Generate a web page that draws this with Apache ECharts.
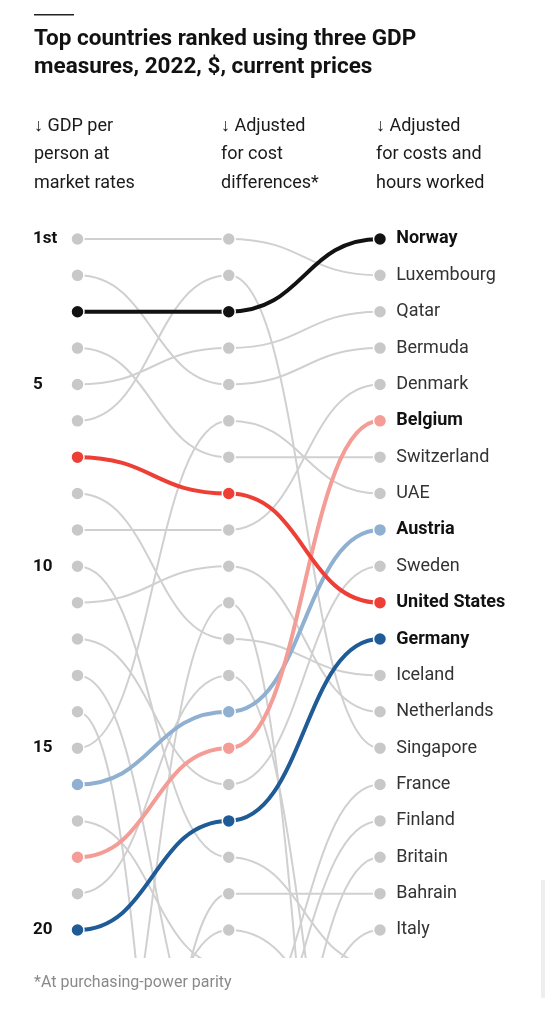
<!DOCTYPE html>
<html><head><meta charset="utf-8">
<script src="https://cdn.jsdelivr.net/npm/echarts@6/dist/echarts.min.js"></script>
<style>html,body{margin:0;padding:0;background:#fff}#c{width:546px;height:1024px}</style>
</head><body><div id="c"></div>
<script>
// ---- data ----
const columnHeaders = ['↓ GDP per\nperson at\nmarket rates', '↓ Adjusted\nfor cost\ndifferences*', '↓ Adjusted\nfor costs and\nhours worked'];
const countries   = ['Luxembourg','Bermuda','Norway','Switzerland','Qatar','Singapore','United States','Iceland','Denmark','Australia','Netherlands','Sweden','Finland','Israel','UAE','Austria','Canada','Belgium','Hong Kong','Germany','Taiwan','Bahrain','Saudi Arabia','France','Britain','Italy'];
const rankMarket  = [1,2,3,4,5,6,7,8,9,10,11,12,13,14,15,16,17,18,19,20,27,36,28,24,22,25];
const rankPPP     = [1,5,3,7,4,2,8,12,9,18,10,16,24,38,6,14,21,15,13,17,11,19,20,23,28,27];
const rankHours   = [2,4,1,7,3,15,11,13,5,21,14,10,17,30,8,9,25,6,28,12,36,19,23,16,18,20];
const rankTicks   = [1,5,10,15,20];
const highlighted = ['Austria','Germany','Belgium','United States','Norway'];

// ---- styles ----
const FONT = 'Roboto, "Noto Sans", sans-serif';
const GREY_LINE = '#d0d0d0', GREY_DOT = '#c8c8c8';
const hiColor = {'Norway':'#121212','United States':'#ee3f36','Belgium':'#f49c96','Austria':'#8fb0d0','Germany':'#1f5b97'};
const SHOWN = 20;

const order = countries.map((c,i)=>i).sort((i,j)=>{
  const hi = highlighted.indexOf(countries[i]), hj = highlighted.indexOf(countries[j]);
  return hi - hj;
});
const ranks = i => [rankMarket[i], rankPPP[i], rankHours[i]];

const linkData = order.map(i => ({name: countries[i], value: ranks(i)}));

const dotData = [];
order.forEach(i => {
  const name = countries[i];
  const hi = highlighted.indexOf(name) >= 0;
  ranks(i).forEach((r, col) => {
    if (r > SHOWN) return;
    const item = {name, value:[col, r],
      itemStyle:{color: hi ? hiColor[name] : GREY_DOT}};
    if (col === 2) {
      item.label = {show:true, position:'right', distance:9, formatter:name,
        fontFamily:FONT, fontSize:18, color: hi ? '#111' : '#333', fontWeight: hi ? 'bold' : 'normal'};
    }
    dotData.push(item);
  });
});

function renderLink(params, api) {
  const name = linkData[params.dataIndex].name;
  const hi = highlighted.indexOf(name) >= 0;
  const pts = [0,1,2].map(k => api.coord([k, api.value(k)]));
  const style = {stroke: hi ? hiColor[name] : GREY_LINE, lineWidth: hi ? 4 : 2, fill: null};
  const seg = (s, e) => ({type:'bezierCurve', shape:{x1:s[0], y1:s[1], x2:e[0], y2:e[1],
      cpx1:(s[0]+e[0])/2, cpy1:s[1], cpx2:(s[0]+e[0])/2, cpy2:e[1]}, style});
  const cs = params.coordSys;
  return {type:'group', children:[seg(pts[0],pts[1]), seg(pts[1],pts[2])],
    clipPath:{type:'rect', shape:{x:cs.x-20, y:cs.y, width:cs.width+40, height:cs.height}}};
}

const headStyle = {fontFamily:FONT, fontSize:18, fontWeight:'normal', lineHeight:28.5, color:'#1a1a1a'};
const chart = echarts.init(document.getElementById('c'), null, {renderer:'canvas'});
chart.setOption({
  animation:false,
  backgroundColor:'#fff',
  title:[
    {text:'Top countries ranked using three GDP\nmeasures, 2022, $, current prices', left:34, top:25, padding:0,
     textStyle:{fontFamily:FONT, fontSize:22.5, fontWeight:'bold', lineHeight:28, color:'#121212'}},
    {text:columnHeaders[0], left:34, top:112, padding:0, textStyle:headStyle},
    {text:columnHeaders[1], left:221, top:112, padding:0, textStyle:headStyle},
    {text:columnHeaders[2], left:376, top:112, padding:0, textStyle:headStyle},
    {text:'*At purchasing-power parity', left:34, top:972, padding:0, textStyle:{fontFamily:FONT, fontSize:16, fontWeight:'normal', lineHeight:22, color:'#8a8a8a'}}
  ],
  graphic:[
    {type:'rect', left:34, top:14, shape:{width:40, height:1.5}, style:{fill:'#222'}},
    {type:'rect', left:541, top:880, shape:{width:4, height:118}, style:{fill:'#eeeeee'}}
  ],
  grid:{left:77.5, right:166, top:202.6, bottom:66},
  xAxis:{type:'value', min:0, max:2, show:false},
  yAxis:{type:'value', inverse:true, min:0, max:20.77, interval:1,
    axisLine:{show:false}, axisTick:{show:false}, splitLine:{show:false},
    axisLabel:{show:true, showMaxLabel:false, showMinLabel:false, align:'left', margin:44.5,
      fontFamily:FONT, fontSize:17, fontWeight:'bold', color:'#111',
      formatter: v => rankTicks.indexOf(v) >= 0 ? (v === 1 ? '1st' : String(v)) : ''}},
  series:[
    {type:'custom', renderItem:renderLink, data:linkData, clip:true, z:2, silent:true},
    {type:'scatter', data:dotData, symbol:'circle', symbolSize:13, z:5, silent:true,
     itemStyle:{borderColor:'#fff', borderWidth:1.5, opacity:1}}
  ]
});
</script></body></html>
